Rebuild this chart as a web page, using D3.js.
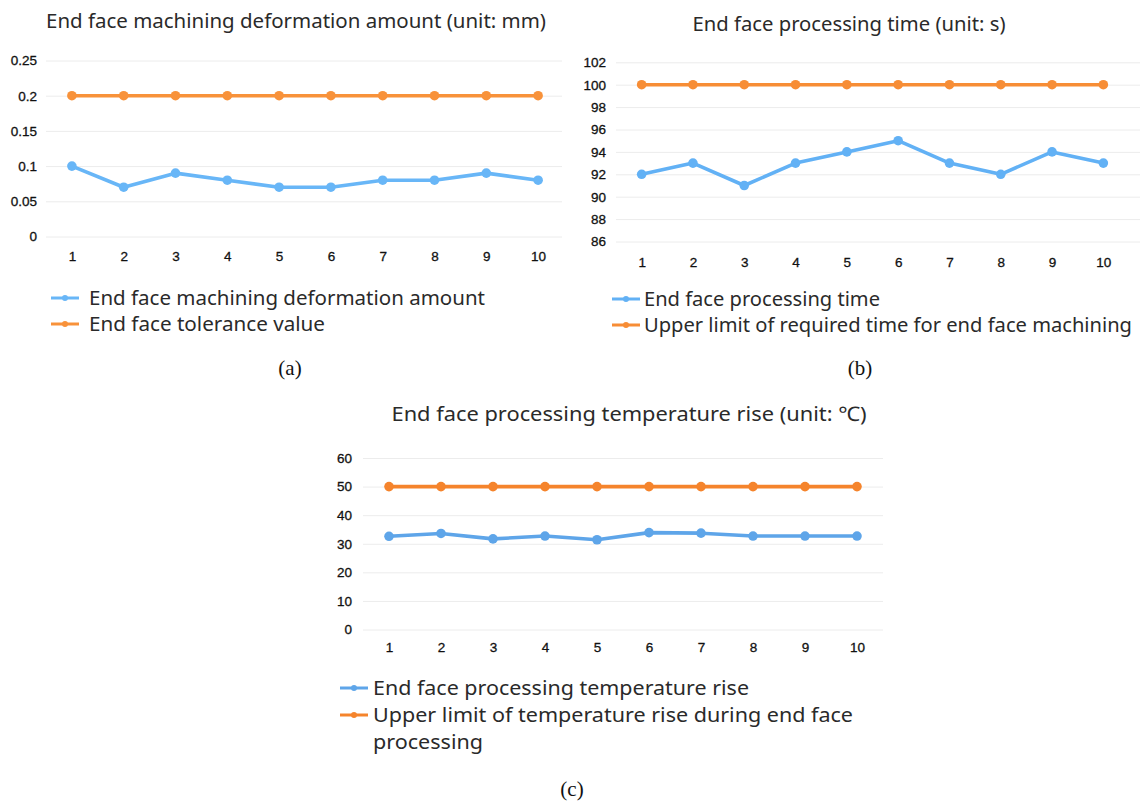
<!DOCTYPE html>
<html>
<head>
<meta charset="utf-8">
<script src="https://cdn.jsdelivr.net/npm/d3@7"></script>
<style>
  html, body { margin: 0; padding: 0; background: #ffffff; }
  svg { display: block; }
</style>
</head>
<body>
<svg id="fig" width="1140" height="803"></svg>
<script>
// Sample index shared by all three panels
const samples = [1, 2, 3, 4, 5, 6, 7, 8, 9, 10];

// (a) End face machining deformation (mm)
const deformation = [0.10, 0.07, 0.09, 0.08, 0.07, 0.07, 0.08, 0.08, 0.09, 0.08];
const tolerance   = [0.20, 0.20, 0.20, 0.20, 0.20, 0.20, 0.20, 0.20, 0.20, 0.20];
const ticksA = [0, 0.05, 0.1, 0.15, 0.2, 0.25];

// (b) End face processing time (s)
const procTime  = [92, 93, 91, 93, 94, 95, 93, 92, 94, 93];
const timeLimit = [100, 100, 100, 100, 100, 100, 100, 100, 100, 100];
const ticksB = [86, 88, 90, 92, 94, 96, 98, 100, 102];

// (c) End face processing temperature rise (°C)
const tempRise  = [32.6, 33.6, 31.7, 32.7, 31.4, 33.9, 33.7, 32.7, 32.7, 32.7];
const tempLimit = [50, 50, 50, 50, 50, 50, 50, 50, 50, 50];
const ticksC = [0, 10, 20, 30, 40, 50, 60];

const svg = d3.select("#fig");
const SANS = "'Noto Sans', 'Open Sans', sans-serif";
const TICKFONT = "'Liberation Sans', Arial, sans-serif";

function styleTicks(sel) {
  sel.attr("font-family", TICKFONT).attr("font-size", 13.5)
    .attr("fill", "#111").attr("stroke", "#111").attr("stroke-width", 0.3);
}

function panel(cfg) {
  const g = svg.append("g");
  const x = d3.scalePoint().domain(samples).range([cfg.x0, cfg.x1]).padding(0.5);
  const y = d3.scaleLinear().domain(cfg.yDomain).range([cfg.yBottom, cfg.yTop]);

  // title
  g.append("text")
    .attr("x", cfg.titleX).attr("y", cfg.titleY)
    .attr("text-anchor", "middle")
    .attr("font-family", SANS).attr("font-size", 20).attr("fill", "#2a2a2a")
    .attr("textLength", cfg.titleW).attr("lengthAdjust", "spacingAndGlyphs")
    .text(cfg.title);

  // horizontal grid + y tick labels
  const yAxis = d3.axisLeft(y).tickValues(cfg.yTicks)
    .tickSize(-(cfg.gridX1 - cfg.x0)).tickPadding(cfg.yPad)
    .tickFormat(d => String(d));
  const ya = g.append("g").attr("transform", `translate(${cfg.x0},0)`).call(yAxis);
  ya.select(".domain").remove();
  ya.selectAll(".tick line").attr("stroke", "#ececec").attr("stroke-width", 1);
  styleTicks(ya.selectAll(".tick text"));

  // x tick labels
  const xAxis = d3.axisBottom(x).tickSize(0).tickPadding(0);
  const xa = g.append("g").attr("transform", `translate(0,${cfg.xLabelY})`).call(xAxis);
  xa.select(".domain").remove();
  styleTicks(xa.selectAll(".tick text").attr("dy", "0.35em"));

  const line = d3.line().x((d, i) => x(samples[i])).y(d => y(d));

  cfg.series.forEach(s => {
    g.append("path").datum(s.values)
      .attr("d", line).attr("fill", "none")
      .attr("stroke", s.color).attr("stroke-width", 3.6)
      .attr("stroke-linejoin", "round");
    g.append("g").selectAll("circle").data(s.values).join("circle")
      .attr("cx", (d, i) => x(samples[i])).attr("cy", d => y(d))
      .attr("r", 4.8).attr("fill", s.color);
  });

  // legend
  cfg.series.forEach((s, k) => {
    const ly = cfg.legendY + k * cfg.legendStep;
    g.append("line")
      .attr("x1", cfg.legendX).attr("x2", cfg.legendX + 28)
      .attr("y1", ly).attr("y2", ly)
      .attr("stroke", s.color).attr("stroke-width", 3);
    g.append("circle")
      .attr("cx", cfg.legendX + 14).attr("cy", ly).attr("r", 3).attr("fill", s.color);
    s.label.forEach((t, j) => {
      g.append("text")
        .attr("x", cfg.legendTextX).attr("y", ly + j * cfg.legendStep)
        .attr("dy", "0.35em")
        .attr("font-family", SANS).attr("font-size", 20).attr("fill", "#2a2a2a")
        .attr("textLength", s.widths[j]).attr("lengthAdjust", "spacingAndGlyphs")
        .text(t);
    });
  });

  // sub-figure label
  g.append("text")
    .attr("x", cfg.tagX).attr("y", cfg.tagY).attr("dy", "0.35em")
    .attr("text-anchor", "middle")
    .attr("font-family", "'Liberation Serif', 'DejaVu Serif', serif")
    .attr("font-size", 21).attr("fill", "#111")
    .text(cfg.tag);
}

panel({
  title: "End face machining deformation amount (unit: mm)",
  titleX: 296, titleY: 28, titleW: 500,
  x0: 46, x1: 564, gridX1: 562,
  yDomain: [0, 0.25], yBottom: 236.5, yTop: 60.5, yTicks: ticksA, yPad: 9,
  xLabelY: 256,
  series: [
    { values: deformation, color: "#68b6f7",
      label: ["End face machining deformation amount"], widths: [396] },
    { values: tolerance, color: "#f8923a",
      label: ["End face tolerance value"], widths: [236] }
  ],
  legendX: 51, legendTextX: 89, legendY: 298, legendStep: 26,
  tag: "(a)", tagX: 290, tagY: 368
});

panel({
  title: "End face processing time (unit: s)",
  titleX: 849, titleY: 31, titleW: 313,
  x0: 616, x1: 1129, gridX1: 1140,
  yDomain: [86, 102], yBottom: 241.5, yTop: 62.3, yTicks: ticksB, yPad: 10,
  xLabelY: 262,
  series: [
    { values: procTime, color: "#62b1f5",
      label: ["End face processing time"], widths: [236] },
    { values: timeLimit, color: "#f78d35",
      label: ["Upper limit of required time for end face machining"], widths: [488] }
  ],
  legendX: 612, legendTextX: 644, legendY: 299, legendStep: 26,
  tag: "(b)", tagX: 860, tagY: 368
});

panel({
  title: "End face processing temperature rise (unit: ℃)",
  titleX: 629, titleY: 421, titleW: 475,
  x0: 363, x1: 883, gridX1: 883,
  yDomain: [0, 60], yBottom: 629.5, yTop: 458, yTicks: ticksC, yPad: 11,
  xLabelY: 647,
  series: [
    { values: tempRise, color: "#5ea5e9",
      label: ["End face processing temperature rise"], widths: [376] },
    { values: tempLimit, color: "#f5842c",
      label: ["Upper limit of temperature rise during end face", "processing"], widths: [480, 110] }
  ],
  legendX: 340, legendTextX: 373, legendY: 688, legendStep: 27,
  tag: "(c)", tagX: 572, tagY: 789
});
</script>
</body>
</html>
